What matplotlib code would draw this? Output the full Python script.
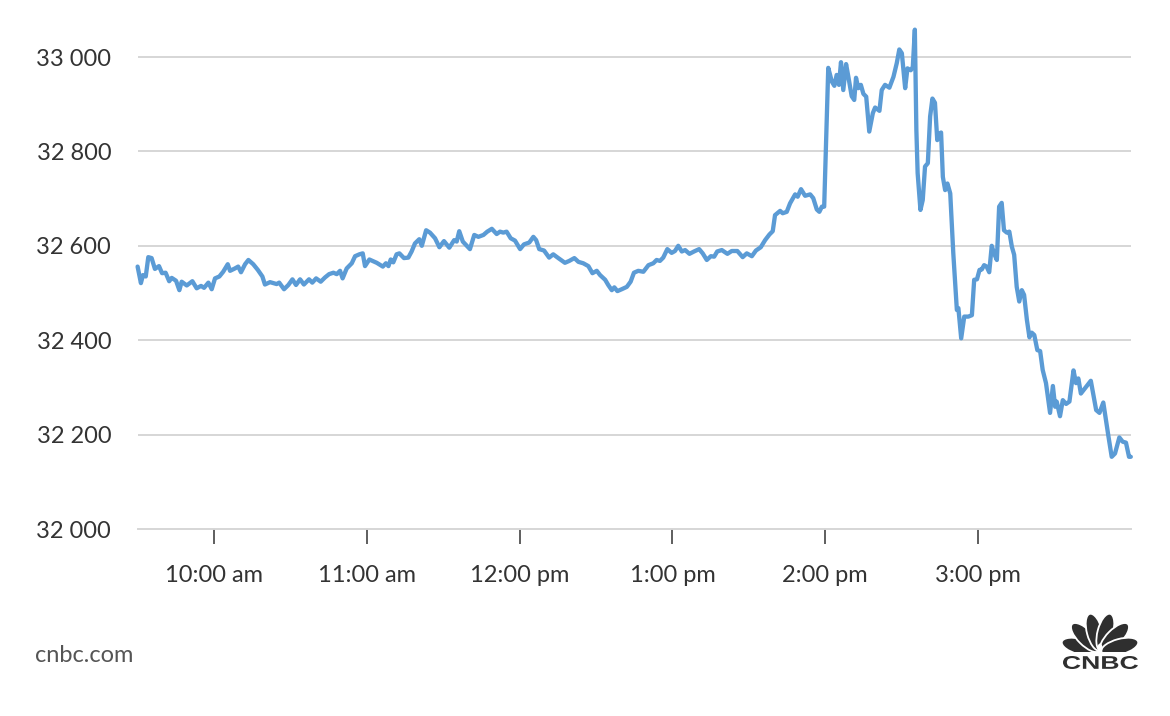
import matplotlib
matplotlib.use("Agg")
import math
import matplotlib.pyplot as plt
from matplotlib.patches import Ellipse, PathPatch
from matplotlib.textpath import TextPath
from matplotlib.font_manager import FontProperties
from matplotlib.transforms import Affine2D
from matplotlib.ticker import FuncFormatter

# minutes since 9:30 am open
minutes = [0, 1.3, 2.1, 3.2, 4.2, 5.5, 6.8, 8.4, 9.6, 11.0, 12.4, 13.4, 15.1, 16.4, 17.3,
           19.3, 21.5, 23.2, 24.9, 26.1, 27.8, 29.1, 30.4, 32.1, 33.6, 35.4, 36.3, 38.2,
           39.5, 40.6, 42.2, 43.5, 45.4, 47.2, 49.0, 50.0, 52.0, 54.6, 55.6, 57.5, 59.2,
           60.8, 62.2, 63.8, 65.3, 67.3, 68.6, 70.1, 71.9, 73.6, 75.2, 76.9, 78.2, 79.5,
           80.5, 82.1, 84.1, 85.4, 87.1, 88.4, 89.3, 91.0, 93.9, 96.3, 97.5, 98.5, 99.4,
           100.4, 101.7, 102.8, 104.6, 106.3, 107.6, 108.9, 110.6, 111.6, 113.3, 114.8,
           116.8, 118.5, 120.3, 122.4, 124.3, 125.3, 126.3, 127.7, 130.5, 132.2, 133.8,
           135.8, 137.3, 139.1, 141.0, 142.3, 143.6, 144.9, 146.5, 148.2, 150.2, 151.7,
           153.8, 155.4, 156.5, 157.7, 159.6, 161.6, 163.2, 165.2, 167.8, 169.5, 171.5,
           173.1, 175.0, 177.0, 178.6, 180.3, 181.6, 183.6, 184.8, 186.2, 187.2, 188.4,
           190.1, 192.1, 193.6, 194.9, 196.6, 198.6, 200.6, 202.5, 203.8, 205.1, 206.4,
           208.0, 209.7, 211.0, 212.3, 213.7, 215.0, 216.7, 218.5, 220.5, 221.9, 223.5,
           225.1, 226.4, 227.6, 229.4, 231.6, 233.3, 235.5, 237.6, 239.2, 241.2, 242.8,
           244.7, 246.4, 248.1, 249.4, 250.3, 252.3, 253.3, 254.9, 256.2, 258.2, 259.2,
           260.5, 262.1, 264.1, 265.3, 266.7, 267.7, 268.7, 269.6, 271.2, 272.6, 273.6,
           274.5, 275.4, 276.2, 277.1, 278.2, 279.1, 280.4, 281.4, 282.1, 283.0, 284.0,
           285.0, 286.1, 287.3, 288.7, 289.6, 291.3, 292.2, 293.5, 295.2, 296.8, 298.1,
           299.1, 300.1, 301.4, 302.3, 303.6, 304.4, 305.2, 305.8, 306.3, 307.4, 308.3,
           309.2, 310.3, 311.2, 312.1, 313.1, 314.0, 314.8, 315.5, 316.2, 317.1, 318.0,
           319.1, 320.3, 321.7, 322.3, 323.4, 324.6, 326.2, 327.6, 328.5, 329.6, 330.6,
           331.5, 332.4, 333.4, 334.4, 335.4, 336.3, 337.4, 338.3, 339.3, 340.2, 341.3,
           342.3, 343.3, 344.2, 345.2, 346.2, 347.2, 348.1, 349.2, 350.2, 351.1, 352.1,
           353.3, 354.4, 355.4, 356.7, 358.3, 359.4, 360.3, 360.9, 362.2, 363.3, 364.6,
           365.9, 367.5, 368.5, 369.4, 370.4, 372.0, 374.3, 376.4, 377.7, 379.2, 381.2,
           382.5, 383.8, 385.5, 386.8, 388.1, 389.3, 390.0]

dow = [32556, 32521, 32538, 32535, 32576, 32574, 32551, 32557, 32542, 32543, 32525, 32532,
       32526, 32506, 32524, 32516, 32525, 32510, 32515, 32511, 32522, 32508, 32531, 32535,
       32545, 32561, 32547, 32552, 32556, 32544, 32561, 32570, 32561, 32549, 32535, 32518,
       32523, 32519, 32522, 32508, 32517, 32529, 32517, 32529, 32518, 32529, 32522, 32531,
       32524, 32533, 32540, 32543, 32540, 32547, 32531, 32552, 32563, 32578, 32582, 32584,
       32557, 32571, 32564, 32556, 32563, 32557, 32571, 32565, 32582, 32584, 32574, 32575,
       32588, 32605, 32614, 32600, 32633, 32628, 32616, 32597, 32610, 32596, 32612, 32609,
       32631, 32609, 32593, 32623, 32619, 32623, 32630, 32636, 32625, 32630, 32628, 32630,
       32616, 32611, 32593, 32603, 32607, 32619, 32612, 32593, 32590, 32575, 32582, 32574,
       32564, 32568, 32574, 32566, 32563, 32557, 32542, 32547, 32538, 32528, 32517, 32506,
       32512, 32504, 32508, 32513, 32524, 32543, 32547, 32545, 32559, 32563, 32570, 32568,
       32575, 32593, 32585, 32589, 32600, 32588, 32591, 32583, 32588, 32593, 32584, 32570,
       32578, 32577, 32588, 32591, 32583, 32589, 32589, 32576, 32584, 32578, 32590, 32597,
       32612, 32624, 32631, 32665, 32674, 32669, 32672, 32690, 32709, 32704, 32720, 32706,
       32709, 32701, 32677, 32672, 32683, 32683, 32977, 32948, 32939, 32962, 32941, 32989,
       32930, 32985, 32958, 32917, 32909, 32956, 32934, 32941, 32922, 32916, 32842, 32881,
       32893, 32886, 32930, 32941, 32935, 32958, 32987, 33016, 33008, 32934, 32976, 32972,
       32979, 33058, 32845, 32754, 32676, 32697, 32768, 32775, 32874, 32912, 32903, 32824,
       32838, 32840, 32746, 32718, 32732, 32711, 32584, 32464, 32468, 32404, 32450, 32450,
       32453, 32528, 32529, 32549, 32550, 32559, 32556, 32544, 32600, 32584, 32570, 32683,
       32691, 32633, 32628, 32630, 32598, 32581, 32513, 32482, 32506, 32496, 32443, 32406,
       32416, 32411, 32379, 32377, 32337, 32309, 32246, 32303, 32259, 32270, 32239, 32273,
       32265, 32270, 32336, 32309, 32319, 32287, 32298, 32314, 32252, 32246, 32268, 32197,
       32153, 32160, 32194, 32185, 32183, 32153, 32153]

tick_minutes = [30, 90, 150, 210, 270, 330]
tick_labels = ["10:00 am", "11:00 am", "12:00 pm", "1:00 pm", "2:00 pm", "3:00 pm"]
y_ticks = [32000, 32200, 32400, 32600, 32800, 33000]

FONT = ["Lato", "DejaVu Sans"]
TXT = "#333333"
GRID = "#d6d6d6"
LINE = "#5b9bd5"
LOGO = "#2f2f2f"

W, H = 1170, 716
fig = plt.figure(figsize=(W / 100, H / 100), dpi=100)
fig.patch.set_facecolor("white")

x0, x1 = 137.6, 1130.8
ybot, ytop = 529, 28.7
ax = fig.add_axes([x0 / W, (H - ybot) / H, (x1 - x0) / W, (ybot - ytop) / H])
ax.set_xlim(0, 390)
ax.set_ylim(32000, 33060)

for s in ["top", "right", "left"]:
    ax.spines[s].set_visible(False)
ax.spines["bottom"].set_color(GRID)
ax.spines["bottom"].set_linewidth(1.4)

for v in y_ticks[1:]:
    ax.axhline(v, color=GRID, lw=1.4, zorder=1)

ax.plot(minutes, dow, color=LINE, lw=3.1, solid_joinstyle="round",
        solid_capstyle="round", zorder=3, clip_on=False)

ax.set_yticks(y_ticks)
ax.yaxis.set_major_formatter(FuncFormatter(lambda v, p: f"{int(v):,}".replace(",", " ")))
ax.tick_params(axis="y", length=0, pad=19, labelsize=17, labelcolor=TXT)

ax.set_xticks(tick_minutes)
ax.set_xticklabels(tick_labels)
ax.tick_params(axis="x", direction="out", length=11, width=1.1, color=TXT,
               pad=15, labelsize=17, labelcolor=TXT)
for lab in ax.get_xticklabels() + ax.get_yticklabels():
    lab.set_family(FONT)

fig.text(35 / W, (H - 656) / H, "cnbc.com", fontsize=17, color="#555555",
         family=FONT, ha="left", va="center")

# CNBC logo
lax = fig.add_axes([1060 / W, (H - 670) / H, 80 / W, 60 / H])
lax.set_xlim(0, 80)
lax.set_ylim(0, 60)
lax.axis("off")
cx, cy = 40, 18
for i in range(6):
    ang = 180 - (15 + 30 * i)
    r = 20.5
    ex = cx + r * math.cos(math.radians(ang))
    ey = cy + r * math.sin(math.radians(ang))
    lax.add_patch(Ellipse((ex, ey), width=38, height=15.5, angle=ang,
                          facecolor=LOGO, edgecolor="white", lw=1.3))
lax.add_patch(Ellipse((cx, cy + 4), width=5, height=9, facecolor="white", edgecolor="none"))
lax.add_patch(plt.Rectangle((0, 14.2), 80, 3.8, facecolor="white", edgecolor="none"))
fp = FontProperties(family="Liberation Sans", weight="bold")
tp = TextPath((0, 0), "CNBC", size=10, prop=fp)
bb = tp.get_extents()
sx = 75 / bb.width
sy = 13 / bb.height
tr = Affine2D().translate(-bb.x0, -bb.y0).scale(sx, sy).translate(3, 1)
lax.add_patch(PathPatch(tr.transform_path(tp), facecolor=LOGO, edgecolor="none"))

fig.savefig("out.png", dpi=100, facecolor="white")
